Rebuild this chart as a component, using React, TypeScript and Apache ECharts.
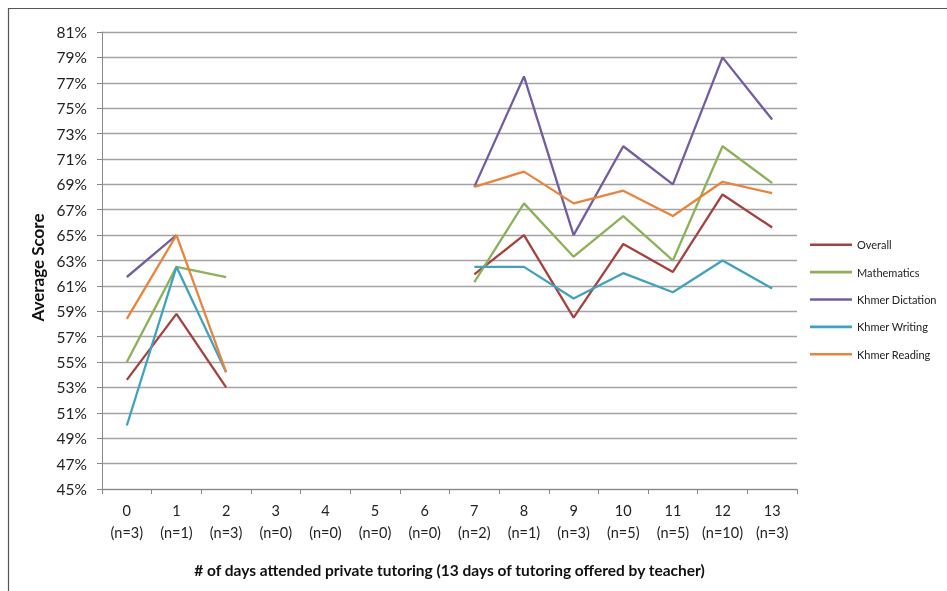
import React, { useEffect, useRef } from "react";
import * as echarts from "echarts";

const categories = ["0\n(n=3)", "1\n(n=1)", "2\n(n=3)", "3\n(n=0)", "4\n(n=0)", "5\n(n=0)", "6\n(n=0)", "7\n(n=2)", "8\n(n=1)", "9\n(n=3)", "10\n(n=5)", "11\n(n=5)", "12\n(n=10)", "13\n(n=3)"];

const overall = [53.6, 58.8, 53.0, null, null, null, null, 61.9, 65.0, 58.5, 64.3, 62.1, 68.2, 65.6];
const mathematics = [55.0, 62.5, 61.7, null, null, null, null, 61.3, 67.5, 63.3, 66.5, 63.0, 72.0, 69.1];
const khmerDictation = [61.7, 65.0, null, null, null, null, null, 68.8, 77.5, 65.0, 72.0, 69.0, 79.0, 74.1];
const khmerWriting = [50.0, 62.5, 54.2, null, null, null, null, 62.5, 62.5, 60.0, 62.0, 60.5, 63.0, 60.8];
const khmerReading = [58.4, 65.0, 54.2, null, null, null, null, 68.8, 70.0, 67.5, 68.5, 66.5, 69.2, 68.3];

const seriesNames = ["Overall", "Mathematics", "Khmer Dictation", "Khmer Writing", "Khmer Reading"];
const seriesData = [overall, mathematics, khmerDictation, khmerWriting, khmerReading];
const colors = ["#A5423F", "#8CB158", "#735C9F", "#40A2BE", "#E8843E"];

const FONT = "Lato, 'Liberation Sans', sans-serif";

export default function App() {
  const ref = useRef<HTMLDivElement>(null);
  useEffect(() => {
    if (!ref.current) return;
    const chart = echarts.init(ref.current, null, { renderer: "svg" });
    chart.setOption({
      animation: false,
      textStyle: { fontFamily: FONT },
      color: colors,
      graphic: [
        { type: "line", shape: { x1: 8, y1: 8.5, x2: 947, y2: 8.5 }, style: { stroke: "#555", lineWidth: 1.2 } },
        { type: "line", shape: { x1: 8.5, y1: 8, x2: 8.5, y2: 591 }, style: { stroke: "#555", lineWidth: 1.2 } },
      ],
      grid: { left: 102, top: 32, right: 150, bottom: 102, containLabel: false },
      legend: {
        orient: "vertical",
        left: 810,
        top: 237.7,
        padding: 0,
        icon: "rect",
        itemWidth: 42,
        itemHeight: 2.6,
        itemGap: 13.4,
        textStyle: { fontSize: 11, lineHeight: 14, color: "#222", fontFamily: FONT },
        data: seriesNames,
      },
      xAxis: {
        type: "category",
        data: categories,
        boundaryGap: true,
        axisLine: { lineStyle: { color: "#888", width: 1 } },
        axisTick: { show: true, alignWithLabel: false, length: 5, lineStyle: { color: "#888" } },
        axisLabel: { fontSize: 14.5, color: "#222", lineHeight: 22, margin: 10, interval: 0 },
        name: "# of days attended private tutoring (13 days of tutoring offered by teacher)",
        nameLocation: "middle",
        nameGap: 73,
        nameTextStyle: { fontSize: 15.5, fontWeight: "bold", color: "#111", verticalAlign: "top" },
      },
      yAxis: {
        type: "value",
        min: 45,
        max: 81,
        interval: 2,
        axisLine: { show: true, lineStyle: { color: "#888", width: 1 } },
        axisTick: { show: true, length: 5, lineStyle: { color: "#888" } },
        axisLabel: { fontSize: 15.5, color: "#222", margin: 15, formatter: (v: number) => v + "%" },
        splitLine: { show: true, lineStyle: { color: "#a3a3a3", width: 1.3 } },
        name: "Average Score",
        nameLocation: "middle",
        nameGap: 49,
        nameTextStyle: { fontSize: 17, fontWeight: "bold", color: "#111", padding: [0, 14, 0, 0] },
      },
      series: seriesNames.map((name, i) => ({
        name,
        type: "line",
        data: seriesData[i],
        symbol: "none",
        connectNulls: false,
        lineStyle: { width: 2.3, color: colors[i] },
        itemStyle: { color: colors[i] },
      })),
    });
    return () => chart.dispose();
  }, []);
  return <div ref={ref} style={{ position: "fixed", left: 0, top: 0, width: 947, height: 591 }} />;
}
